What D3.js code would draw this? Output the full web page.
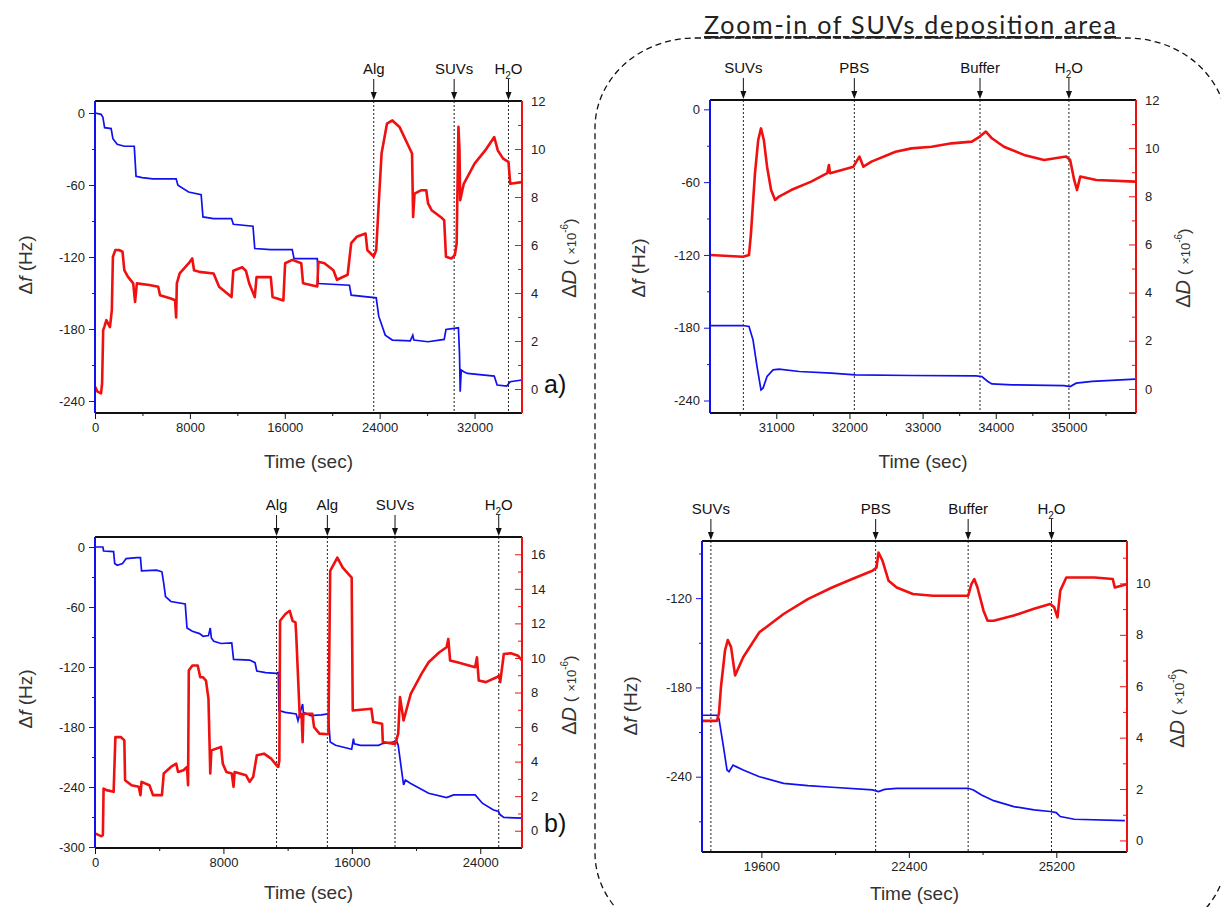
<!DOCTYPE html>
<html>
<head>
<meta charset="utf-8">
<script src="https://cdn.jsdelivr.net/npm/d3@7"></script>
<style>
  body { margin: 0; background: #fff; }
  svg { font-family: "Liberation Sans", Arial, sans-serif; }
</style>
</head>
<body>
<svg id="chart" width="1221" height="907"></svg>
<script>

// ---- data: [time (s), value] ----
// panel a : full run
var aFreq = [[0,0],[510,-1.1],[660,-3.3],[810,-12.2],[1360,-13],[1510,-21.4],[1870,-26.1],[2470,-27.7],[3310,-27.7],[3460,-52.7],[3980,-53.8],[4880,-54.9],[6840,-54.9],[6990,-60.2],[7890,-65.8],[8950,-68],[9100,-86.6],[10000,-88],[11510,-88],[11660,-92.7],[13320,-94.3],[13470,-112.9],[14820,-113.8],[16630,-113.8],[16780,-121.3],[18740,-121.3],[18830,-142.1],[21450,-143.5],[21600,-151.8],[23710,-154],[23920,-169.3],[24470,-185.1],[25070,-189.2],[26580,-189.8],[26790,-185.1],[26880,-189.2],[28080,-190.6],[29440,-188.7],[29590,-180.4],[30640,-179],[30730,-200.3],[30790,-232.2],[30880,-214.2],[31090,-215.6],[31400,-217],[33660,-219.2],[33900,-226.7],[34710,-227.5],[35010,-223.9],[35980,-222.5]];
var aDiss = [[0,0.1],[210,-0.11],[510,-0.18],[600,0.24],[690,2.45],[780,2.58],[960,2.87],[1260,2.58],[1420,3.29],[1510,5.51],[1720,5.79],[2020,5.79],[2320,5.72],[2470,4.95],[2770,4.68],[3220,4.4],[3380,3.63],[3530,4.4],[4580,4.33],[5330,4.26],[5480,3.91],[6390,3.77],[6750,3.7],[6840,2.98],[6900,4.4],[7140,4.82],[7890,5.23],[8200,5.44],[8350,4.95],[8800,4.88],[10000,4.81],[10460,4.26],[11510,3.83],[11660,4.93],[12410,5.07],[12720,4.93],[13020,4.37],[13470,3.83],[13620,4.66],[14820,4.66],[14970,3.83],[15880,3.69],[16030,5.24],[16630,5.38],[17390,5.24],[17540,4.41],[18740,4.27],[18830,5.3],[19340,5.24],[20100,4.95],[20400,4.55],[21300,4.76],[21600,6.08],[22060,6.34],[22810,6.48],[22960,5.79],[23500,5.52],[23710,5.79],[23920,7.73],[24160,9.81],[24620,11.06],[25070,11.19],[25670,10.92],[26730,9.81],[26820,7.17],[26940,8.14],[27480,8.28],[27930,8.28],[28080,7.73],[28380,7.45],[29140,7.17],[29440,7.03],[29590,5.51],[30040,5.44],[30340,5.58],[30490,6.06],[30640,10.92],[30730,9.99],[30790,7.87],[31090,8.55],[32000,9.39],[32900,9.94],[33660,10.5],[33960,9.94],[34410,9.6],[34860,9.46],[35010,8.55],[35980,8.62]];
var aMarkNames = ["Alg", "SUVs", "H2O"];
var aMarkTimes = [23500, 30280, 34860];

// panel b : second run
var bFreq = [[0,0],[491,0],[535,-4],[1160,-4.6],[1227,-16.5],[1383,-18.2],[1717,-16.5],[1940,-11.6],[2609,-10.6],[2832,-10.6],[2899,-23.8],[3836,-23.1],[4170,-24.8],[4282,-36.4],[4393,-49.6],[4728,-54.5],[5620,-56.9],[5731,-81],[6066,-84.3],[6512,-86.6],[6735,-89.3],[7069,-88.6],[7181,-81],[7248,-90.9],[7404,-94.2],[7850,-96.5],[8519,-95.9],[8630,-112.4],[9634,-113.1],[9968,-115.7],[10080,-124],[10637,-125.6],[11306,-126.3],[11418,-125.6],[11462,-163.6],[11864,-165.3],[12533,-166.9],[12644,-173.6],[12756,-166.9],[12934,-157],[12979,-165.3],[13425,-168.6],[14094,-167.9],[14495,-166.9],[14540,-168.6],[14651,-195],[14986,-198.3],[15989,-202.3],[16101,-191.7],[16145,-196.7],[16547,-198.3],[17662,-198.3],[17885,-196.7],[18554,-195],[18777,-193.4],[18888,-198.3],[19111,-224.8],[19223,-238],[19334,-233.1],[19669,-236.4],[20784,-246.3],[21899,-250.6],[22345,-247.9],[23683,-247.9],[24129,-256.2],[24798,-262.8],[25132,-264.5],[25244,-267.8],[25467,-270.4],[26600,-271.1]];
var bDiss = [[0,-0.15],[379,-0.31],[491,-0.25],[535,2.44],[714,2.35],[1160,2.25],[1271,5.42],[1606,5.42],[1829,5.23],[1873,2.92],[2275,2.63],[2721,2.54],[2832,2.06],[2899,2.83],[3390,2.63],[3613,2.06],[4170,2.06],[4282,3.31],[4728,3.69],[5062,3.88],[5174,3.4],[5508,3.5],[5731,3.69],[5798,2.63],[5843,9.27],[6066,9.56],[6400,9.56],[6556,8.88],[6735,8.88],[6913,8.69],[7069,7.63],[7181,3.31],[7248,4.65],[7850,4.85],[7961,3.88],[8184,3.4],[8519,3.31],[8630,2.54],[8697,3.4],[9411,3.21],[9634,2.83],[9857,3.12],[10080,4.37],[10526,4.46],[10972,4.17],[11306,3.79],[11418,3.69],[11485,4.08],[11529,12.15],[11864,12.54],[12131,12.73],[12310,12.15],[12488,12.06],[12533,11.38],[12756,6.58],[12867,6.77],[12934,5.13],[12979,6.77],[13536,6.77],[13648,6],[13982,5.62],[14495,5.58],[14540,5.62],[14651,15.04],[15097,15.81],[15432,15.23],[15989,14.65],[16056,6.96],[17216,7.06],[17327,6.29],[17885,6.19],[17929,5.13],[18554,5.04],[18710,5.04],[18888,5.62],[19000,7.73],[19223,6.38],[19669,7.92],[20338,9.08],[20784,9.75],[21453,10.33],[21899,10.62],[22010,11.1],[22122,9.85],[22568,9.75],[23683,9.46],[23794,10.04],[23906,8.69],[24352,8.6],[25021,8.88],[25177,8.98],[25244,8.6],[25467,10.23],[25913,10.27],[26359,10.13],[26600,9.85]];
var bMarkNames = ["Alg", "Alg", "SUVs", "H2O"];
var bMarkTimes = [11310, 14475, 18690, 25150];

// panel c : zoom of run a
var cFreq = [[30094,-178.2],[30544,-178.2],[30627,-179],[30682,-190],[30737,-212],[30791,-231.2],[30819,-229.8],[30874,-220.2],[30956,-214.7],[31038,-214.2],[31313,-216.1],[31752,-217.5],[32081,-218.8],[32849,-219.4],[33727,-219.7],[33810,-220.2],[33892,-224.3],[33947,-226.3],[34221,-227.1],[34935,-227.7],[35017,-228.5],[35100,-225.7],[35319,-224.3],[35906,-222.4]];
var cDiss = [[30094,5.56],[30544,5.49],[30627,5.56],[30654,6.46],[30709,8.96],[30753,10.34],[30791,10.82],[30830,10.34],[30874,9.23],[30929,8.26],[30984,7.85],[31038,7.99],[31203,8.26],[31477,8.61],[31697,8.96],[31719,9.3],[31735,8.96],[31971,9.16],[32054,9.23],[32136,9.65],[32191,9.23],[32301,9.44],[32630,9.85],[32849,9.99],[33124,10.06],[33398,10.2],[33673,10.27],[33782,10.48],[33865,10.69],[33947,10.41],[34112,10.06],[34386,9.72],[34661,9.51],[34962,9.65],[35017,9.51],[35072,8.68],[35111,8.26],[35155,8.82],[35374,8.68],[35906,8.61]];
var cMarkNames = ["SUVs", "PBS", "Buffer", "H2O"];
var cMarkTimes = [30550, 32067, 33785, 35000];

// panel d : zoom of run b
var dFreq = [[18473,-198.7],[18756,-198.7],[18795,-201],[18871,-217.7],[18948,-235.5],[18986,-236.7],[19063,-232.2],[19101,-232.9],[19255,-235.5],[19562,-240],[20022,-244.5],[20482,-246],[20942,-247.1],[21709,-248.9],[21824,-250],[21939,-248.5],[22169,-247.8],[22476,-247.8],[23527,-247.8],[23626,-248.9],[23780,-252.3],[24010,-256.1],[24393,-260.1],[24777,-262.3],[25083,-263.4],[25198,-264.1],[25275,-266.8],[25543,-268.6],[26502,-269.5]];
var dDiss = [[18473,4.65],[18756,4.65],[18795,4.94],[18833,5.97],[18910,7.39],[18963,7.8],[19025,7.52],[19101,6.42],[19255,7.13],[19562,8.1],[20022,8.81],[20482,9.39],[20942,9.84],[21325,10.17],[21709,10.49],[21786,10.62],[21824,11.2],[21901,10.88],[22016,10.1],[22169,9.84],[22476,9.59],[22859,9.52],[23527,9.52],[23588,9.97],[23642,10.17],[23703,9.84],[23818,8.94],[23895,8.55],[24010,8.55],[24393,8.75],[24777,9.01],[25083,9.2],[25160,9.07],[25222,8.68],[25275,9.72],[25390,10.23],[25927,10.23],[26272,10.17],[26310,9.84],[26540,9.97]];
var dMarkNames = ["SUVs", "PBS", "Buffer", "H2O"];
var dMarkTimes = [18642, 21770, 23526, 25108];

// tick labels
var abTimeTicks = [0, 8000, 16000, 24000, 32000];
var abTimeMinor = [4000, 12000, 20000, 28000];
var cTimeTicks = [31000, 32000, 33000, 34000, 35000];
var cTimeMinor = [30500, 31500, 32500, 33500, 34500, 35500];
var dTimeTicks = [19600, 22400, 25200];
var dTimeMinor = [21000, 23800];
var freqTicks = [-300, -240, -180, -120, -60, 0];
var freqMinor = [-270, -210, -150, -90, -30];
var dissTicks = [0, 2, 4, 6, 8, 10, 12, 14, 16];
var dissMinor = [1, 3, 5, 7, 9, 11, 13, 15];

var BLUE = "#1010f0";
var RED = "#f01010";

var svg = d3.select("#chart");

// dashed frame around the zoom-in panels
svg.append("rect")
    .attr("x", 595).attr("y", 38)
    .attr("width", 632).attr("height", 905)
    .attr("rx", 100).attr("ry", 90)
    .attr("fill", "none")
    .attr("stroke", "#111")
    .attr("stroke-width", 1.3)
    .attr("stroke-dasharray", "6,4");

svg.append("text")
    .attr("x", 910).attr("y", 34)
    .attr("text-anchor", "middle")
    .attr("font-family", "Lato, 'Open Sans', sans-serif")
    .attr("font-weight", 400)
    .attr("font-size", 25)
    .attr("textLength", 412)
    .attr("lengthAdjust", "spacing")
    .style("text-decoration", "underline")
    .attr("fill", "#222")
    .text("Zoom-in of SUVs deposition area");

function markLabel(sel, name) {
    if (name == "H2O") {
        sel.append("tspan").text("H");
        sel.append("tspan").attr("font-size", 10).attr("dy", 5).text("2");
        sel.append("tspan").attr("dy", -5).text("O");
    } else {
        sel.text(name);
    }
}

function drawPanel(p) {
    var x = d3.scaleLinear().domain(p.xDomain).range([p.left, p.right]);
    var yF = d3.scaleLinear().domain(p.fDomain).range([p.bottom, p.top]);
    var yD = d3.scaleLinear().domain(p.dDomain).range([p.bottom, p.top]);

    svg.append("clipPath").attr("id", "clip" + p.id)
        .append("rect")
        .attr("x", p.left).attr("y", p.top)
        .attr("width", p.right - p.left).attr("height", p.bottom - p.top);

    var g = svg.append("g");
    var plot = g.append("g").attr("clip-path", "url(#clip" + p.id + ")");

    // event lines
    p.markTimes.forEach(function(t) {
        plot.append("line")
            .attr("x1", x(t)).attr("x2", x(t))
            .attr("y1", p.top).attr("y2", p.bottom)
            .attr("stroke", "#222")
            .attr("stroke-width", 1)
            .attr("stroke-dasharray", "2,2");
    });

    var lineF = d3.line().x(function(d) { return x(d[0]); }).y(function(d) { return yF(d[1]); });
    var lineD = d3.line().x(function(d) { return x(d[0]); }).y(function(d) { return yD(d[1]); });

    plot.append("path").datum(p.freq)
        .attr("d", lineF)
        .attr("fill", "none").attr("stroke", BLUE).attr("stroke-width", 1.7);
    plot.append("path").datum(p.diss)
        .attr("d", lineD)
        .attr("fill", "none").attr("stroke", RED).attr("stroke-width", 2.6)
        .attr("stroke-linejoin", "round");

    // arrows and labels above the frame
    p.markTimes.forEach(function(t, i) {
        var xx = x(t);
        g.append("line")
            .attr("x1", xx).attr("x2", xx)
            .attr("y1", p.top - 22).attr("y2", p.top - 6)
            .attr("stroke", "#111").attr("stroke-width", 1);
        g.append("path")
            .attr("d", "M" + (xx - 3) + "," + (p.top - 9) + "L" + (xx + 3) + "," + (p.top - 9) + "L" + xx + "," + (p.top - 1) + "Z")
            .attr("fill", "#111");
        var t2 = g.append("text")
            .attr("x", xx).attr("y", p.top - 27)
            .attr("text-anchor", "middle")
            .attr("font-size", 15)
            .attr("fill", "#111");
        markLabel(t2, p.markNames[i]);
    });

    function clean(sel, col) {
        sel.select(".domain").remove();
        sel.selectAll(".tick line").attr("stroke", col);
        sel.selectAll(".tick text").attr("font-size", 13).attr("fill", "#222")
            .attr("font-family", "'Liberation Sans', Arial, sans-serif");
    }

    var fmt = function(d) { return String(d); };

    // bottom axis
    var xT = p.xTicks.filter(function(v) { return v >= p.xDomain[0] && v <= p.xDomain[1]; });
    var xM = p.xMinor.filter(function(v) { return v >= p.xDomain[0] && v <= p.xDomain[1]; });
    g.append("g").attr("transform", "translate(0," + p.bottom + ")")
        .call(d3.axisBottom(x).tickValues(xT).tickSize(6).tickPadding(4).tickFormat(fmt))
        .call(function(s) { clean(s, "#111"); });
    g.append("g").attr("transform", "translate(0," + p.bottom + ")")
        .call(d3.axisBottom(x).tickValues(xM).tickSize(3).tickFormat(""))
        .call(function(s) { clean(s, "#111"); });

    // left axis (frequency)
    var fT = freqTicks.filter(function(v) { return v >= p.fDomain[0] && v <= p.fDomain[1]; });
    var fM = freqMinor.filter(function(v) { return v >= p.fDomain[0] && v <= p.fDomain[1]; });
    g.append("g").attr("transform", "translate(" + p.left + ",0)")
        .call(d3.axisLeft(yF).tickValues(fT).tickSize(6).tickPadding(4).tickFormat(fmt))
        .call(function(s) { clean(s, BLUE); });
    g.append("g").attr("transform", "translate(" + p.left + ",0)")
        .call(d3.axisLeft(yF).tickValues(fM).tickSize(3).tickFormat(""))
        .call(function(s) { clean(s, BLUE); });

    // right axis (dissipation), ticks pointing inwards
    var dT = dissTicks.filter(function(v) { return v >= p.dDomain[0] && v <= p.dDomain[1]; });
    var dM = dissMinor.filter(function(v) { return v >= p.dDomain[0] && v <= p.dDomain[1]; });
    g.append("g").attr("transform", "translate(" + p.right + ",0)")
        .call(d3.axisRight(yD).tickValues(dT).tickSize(-7).tickPadding(9).tickFormat(fmt))
        .call(function(s) { clean(s, RED); });
    g.append("g").attr("transform", "translate(" + p.right + ",0)")
        .call(d3.axisRight(yD).tickValues(dM).tickSize(-4).tickFormat(""))
        .call(function(s) { clean(s, RED); });

    // frame
    g.append("line").attr("x1", p.left).attr("x2", p.right).attr("y1", p.top).attr("y2", p.top)
        .attr("stroke", "#111").attr("stroke-width", 2);
    g.append("line").attr("x1", p.left).attr("x2", p.right).attr("y1", p.bottom).attr("y2", p.bottom)
        .attr("stroke", "#111").attr("stroke-width", 2);
    g.append("line").attr("x1", p.left).attr("x2", p.left).attr("y1", p.top).attr("y2", p.bottom)
        .attr("stroke", BLUE).attr("stroke-width", 2);
    g.append("line").attr("x1", p.right).attr("x2", p.right).attr("y1", p.top).attr("y2", p.bottom)
        .attr("stroke", RED).attr("stroke-width", 2);

    // axis titles
    g.append("text")
        .attr("x", (p.left + p.right) / 2).attr("y", p.timeY)
        .attr("text-anchor", "middle").attr("font-size", 19).attr("fill", "#333")
        .text("Time (sec)");

    var fl = g.append("text")
        .attr("transform", "translate(" + p.fLabel[0] + "," + p.fLabel[1] + ") rotate(-90)")
        .attr("text-anchor", "middle").attr("font-size", 19).attr("fill", "#333");
    fl.append("tspan").text("\u0394");
    fl.append("tspan").attr("font-style", "italic").text("f");
    fl.append("tspan").text(" (Hz)");

    var dl = g.append("text")
        .attr("transform", "translate(" + p.dLabel[0] + "," + p.dLabel[1] + ") rotate(-90)")
        .attr("text-anchor", "middle").attr("font-size", 20).attr("fill", "#333");
    dl.append("tspan").text("\u0394");
    dl.append("tspan").attr("font-style", "italic").text("D");
    dl.append("tspan").attr("font-size", 17).text(" ( ");
    dl.append("tspan").attr("font-size", 13).text("\u00d710");
    dl.append("tspan").attr("font-size", 10).attr("dy", -8).text("-6");
    dl.append("tspan").attr("font-size", 17).attr("dy", 8).text(")");

    if (p.tag) {
        g.append("text")
            .attr("x", p.tag[0]).attr("y", p.tag[1])
            .attr("font-size", 25).attr("fill", "#111")
            .text(p.tag[2]);
    }
}

drawPanel({
    id: "a", left: 95, right: 522, top: 101, bottom: 413,
    xDomain: [0, 36000], fDomain: [-250, 10], dDomain: [-1, 12],
    freq: aFreq, diss: aDiss, markNames: aMarkNames, markTimes: aMarkTimes,
    xTicks: abTimeTicks, xMinor: abTimeMinor,
    fLabel: [32, 265], dLabel: [576, 258], timeY: 468,
    tag: [544, 393, "a)"]
});
drawPanel({
    id: "b", left: 95, right: 522, top: 537, bottom: 848,
    xDomain: [0, 26600], fDomain: [-301, 10], dDomain: [-1, 17],
    freq: bFreq, diss: bDiss, markNames: bMarkNames, markTimes: bMarkTimes,
    xTicks: abTimeTicks, xMinor: abTimeMinor,
    fLabel: [32, 699], dLabel: [576, 695], timeY: 899,
    tag: [544, 832, "b)"]
});
drawPanel({
    id: "c", left: 710, right: 1136, top: 100, bottom: 413,
    xDomain: [30094, 35917], fDomain: [-250.3, 7.7], dDomain: [-1, 12],
    freq: cFreq, diss: cDiss, markNames: cMarkNames, markTimes: cMarkTimes,
    xTicks: cTimeTicks, xMinor: cTimeMinor,
    fLabel: [645, 268], dLabel: [1190, 268], timeY: 468
});
drawPanel({
    id: "d", left: 702, right: 1127, top: 541, bottom: 852,
    xDomain: [18473, 26542], fDomain: [-290.6, -81.6], dDomain: [-0.45, 11.65],
    freq: dFreq, diss: dDiss, markNames: dMarkNames, markTimes: dMarkTimes,
    xTicks: dTimeTicks, xMinor: dTimeMinor,
    fLabel: [637, 706], dLabel: [1184, 708], timeY: 900
});

</script>
</body>
</html>
